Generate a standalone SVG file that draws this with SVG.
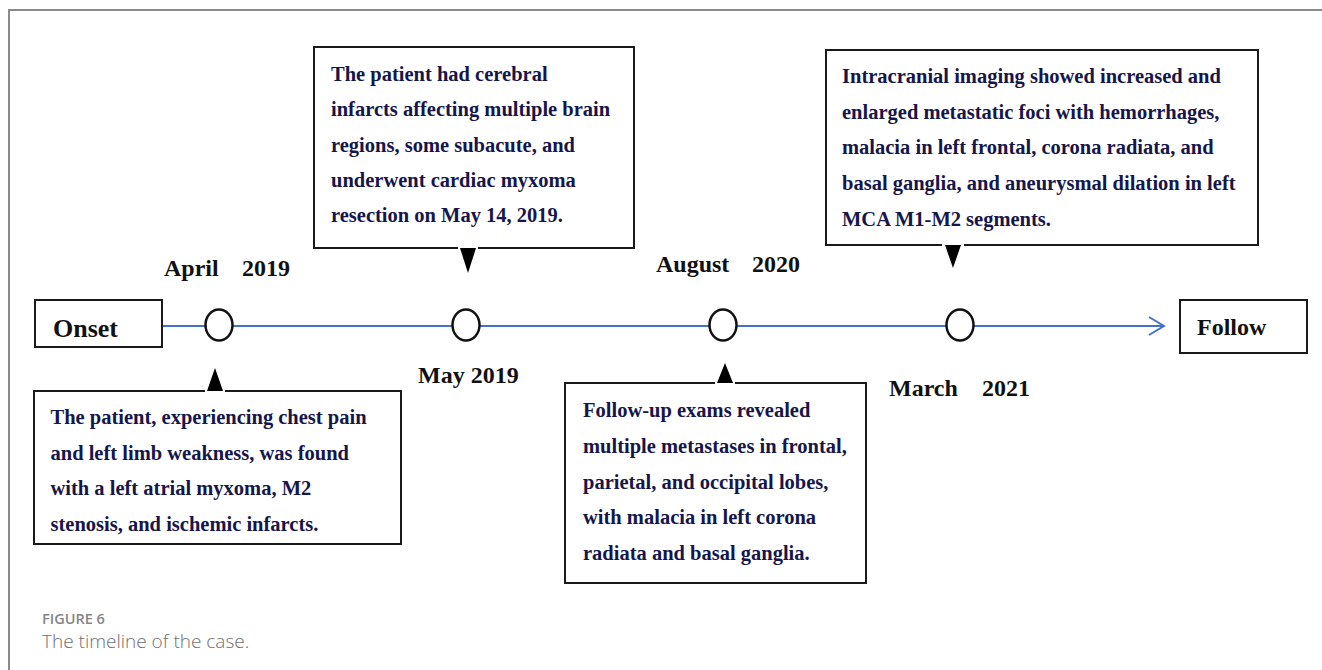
<svg xmlns="http://www.w3.org/2000/svg" width="1322" height="670" viewBox="0 0 1322 670">
<defs>
<style>
.frame{fill:none;stroke:#8a8a8a;stroke-width:2}
.box{fill:#fff;stroke:#1a1a1a;stroke-width:2}
.body{font-family:"Liberation Serif","Times New Roman",serif;font-weight:bold;font-size:20.5px;fill:#16164a}
.date{font-family:"Liberation Serif","Times New Roman",serif;font-weight:bold;font-size:24px;fill:#111}
.end{font-family:"Liberation Serif","Times New Roman",serif;font-weight:bold;font-size:26px;fill:#111}
.tl{stroke:#4472C4;stroke-width:2;fill:none}
.dot{fill:#fff;stroke:#111;stroke-width:2.5}
.tri{fill:#000}
.gap{fill:#fff}
.cap1{font-family:"Open Sans","Noto Sans",sans-serif;font-weight:600;font-size:14.5px;fill:#858585}
.cap2{font-family:"Open Sans","Noto Sans",sans-serif;font-weight:300;font-size:19px;fill:#707070}
</style>
</defs>
<rect class="frame" x="9" y="10" width="1340" height="700"/>

<g id="connectors">
<line class="tl" x1="162" y1="326" x2="1163" y2="326"/>
<polyline class="tl" points="1149,317 1164,326 1149,335"/>
</g>

<g id="onset">
<rect class="box" x="35" y="300" width="127" height="47"/>
<text class="end" x="53" y="337">Onset</text>
</g>
<g id="follow">
<rect class="box" x="1180" y="300" width="127" height="53"/>
<text class="end" x="1197" y="335" style="font-size:24px">Follow</text>
</g>

<g id="dot-april"><ellipse class="dot" cx="219" cy="325" rx="13.5" ry="15.5"/></g>
<g id="dot-may"><ellipse class="dot" cx="466" cy="325" rx="13.5" ry="15.5"/></g>
<g id="dot-august"><ellipse class="dot" cx="723" cy="325" rx="13.5" ry="15.5"/></g>
<g id="dot-march"><ellipse class="dot" cx="960" cy="325" rx="13.5" ry="15.5"/></g>

<g id="label-april"><text class="date" y="276"><tspan x="164">April</tspan><tspan x="242">2019</tspan></text></g>
<g id="label-may"><text class="date" x="418" y="383">May 2019</text></g>
<g id="label-august"><text class="date" y="272"><tspan x="656">August</tspan><tspan x="752">2020</tspan></text></g>
<g id="label-march"><text class="date" y="396"><tspan x="889">March</tspan><tspan x="982">2021</tspan></text></g>

<g id="note-april">
<rect class="box" x="34" y="391" width="367" height="153"/>
<rect class="gap" x="205" y="388" width="20" height="5"/>
<polygon class="tri" points="215,368 207,391 223,391"/>
<text class="body" x="50.5" y="424">The patient, experiencing chest pain</text>
<text class="body" x="50.5" y="460">and left limb weakness, was found</text>
<text class="body" x="50.5" y="495">with a left atrial myxoma, M2</text>
<text class="body" x="50.5" y="531">stenosis, and ischemic infarcts.</text>
</g>

<g id="note-may">
<rect class="box" x="314" y="47" width="320" height="201"/>
<rect class="gap" x="458" y="246" width="20" height="5"/>
<polygon class="tri" points="460,248 476,248 468,273"/>
<text class="body" x="331" y="80.5">The patient had cerebral</text>
<text class="body" x="331" y="116">infarcts affecting multiple brain</text>
<text class="body" x="331" y="151.5">regions, some subacute, and</text>
<text class="body" x="331" y="187">underwent cardiac myxoma</text>
<text class="body" x="331" y="222">resection on May 14, 2019.</text>
</g>

<g id="note-august">
<rect class="box" x="565" y="383" width="301" height="200"/>
<rect class="gap" x="715" y="380" width="20" height="5"/>
<polygon class="tri" points="725,363 717,383 733,383"/>
<text class="body" x="583" y="417">Follow-up exams revealed</text>
<text class="body" x="583" y="453">multiple metastases in frontal,</text>
<text class="body" x="583" y="489">parietal, and occipital lobes,</text>
<text class="body" x="583" y="524">with malacia in left corona</text>
<text class="body" x="583" y="560">radiata and basal ganglia.</text>
</g>

<g id="note-march">
<rect class="box" x="826" y="50" width="432" height="195"/>
<rect class="gap" x="942" y="243" width="22" height="5"/>
<polygon class="tri" points="945,245 961,245 953,268"/>
<text class="body" x="842" y="83">Intracranial imaging showed increased and</text>
<text class="body" x="842" y="119">enlarged metastatic foci with hemorrhages,</text>
<text class="body" x="842" y="154">malacia in left frontal, corona radiata, and</text>
<text class="body" x="842" y="190">basal ganglia, and aneurysmal dilation in left</text>
<text class="body" x="842" y="226">MCA M1-M2 segments.</text>
</g>

<g id="caption">
<text class="cap1" x="42" y="624">FIGURE 6</text>
<text class="cap2" x="42" y="648">The timeline of the case.</text>
</g>
</svg>
